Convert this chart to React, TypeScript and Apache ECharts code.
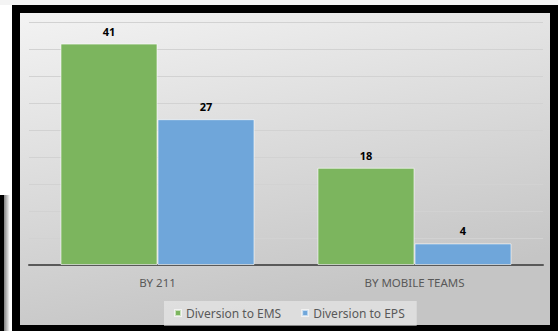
import React, { useEffect, useRef } from "react";
import * as echarts from "echarts";

const categories = ["BY 211", "BY MOBILE TEAMS"];
const emsValues = [41, 18];
const epsValues = [27, 4];
const seriesNames = ["Diversion to EMS", "Diversion to EPS"];

const FONT = "'Noto Sans', 'Open Sans', sans-serif";

export default function App() {
  const ref = useRef<HTMLDivElement>(null);
  useEffect(() => {
    if (!ref.current) return;
    const chart = echarts.init(ref.current, undefined, { renderer: "svg" });
    const label = {
      show: true,
      position: "top" as const,
      distance: 7,
      color: "#000000",
      fontWeight: "bold" as const,
      fontSize: 11,
      fontFamily: FONT,
    };
    chart.setOption({
      animation: false,
      backgroundColor: "#ffffff",
      graphic: [
        {
          type: "rect",
          z: -30,
          shape: { x: 0, y: 0, width: 558, height: 5 },
          style: { fill: "#f4f4f4" },
        },
        {
          type: "rect",
          z: -30,
          shape: { x: 0, y: 195, width: 4, height: 136 },
          style: { fill: "#000000" },
        },
        {
          type: "rect",
          z: -30,
          shape: { x: 4, y: 195, width: 6, height: 136 },
          style: {
            fill: new echarts.graphic.LinearGradient(0, 0, 1, 0, [
              { offset: 0, color: "rgba(0,0,0,0.5)" },
              { offset: 1, color: "rgba(0,0,0,0)" },
            ]),
          },
        },
        {
          type: "rect",
          z: -20,
          shape: { x: 12, y: 5, width: 546, height: 326 },
          style: { fill: "#000000" },
        },
        {
          type: "rect",
          z: -10,
          shape: { x: 20, y: 13, width: 530, height: 312 },
          style: {
            fill: new echarts.graphic.LinearGradient(0, 0, 0.35, 1, [
              { offset: 0, color: "#f3f3f3" },
              { offset: 1, color: "#c5c5c5" },
            ]),
          },
        },
      ],
      grid: { left: 29, right: 15, top: 22, bottom: 66 },
      legend: {
        data: seriesNames,
        left: 164,
        top: 301,
        itemWidth: 6,
        itemHeight: 6,
        itemGap: 20,
        padding: [6, 12, 7, 10],
        backgroundColor: "rgba(240,240,240,0.55)",
        icon: "rect",
        textStyle: { color: "#595959", fontSize: 12, fontFamily: FONT },
      },
      xAxis: {
        type: "category",
        data: categories,
        axisLine: { lineStyle: { color: "#595959", width: 2 } },
        axisTick: { show: false },
        axisLabel: {
          color: "#595959",
          fontSize: 11.5,
          fontFamily: FONT,
          margin: 11,
        },
      },
      yAxis: {
        type: "value",
        min: 0,
        max: 45,
        interval: 5,
        axisLabel: { show: false },
        axisLine: { show: false },
        axisTick: { show: false },
        splitLine: { lineStyle: { color: "#d2d2d2", width: 1 } },
      },
      series: [
        {
          name: seriesNames[0],
          type: "bar",
          data: emsValues,
          barGap: "0%",
          barCategoryGap: "24.5%",
          itemStyle: {
            color: "#7cb55e",
            borderColor: "rgba(255,255,255,0.6)",
            borderWidth: 1,
          },
          label,
        },
        {
          name: seriesNames[1],
          type: "bar",
          data: epsValues,
          barGap: "0%",
          barCategoryGap: "24.5%",
          itemStyle: {
            color: "#6fa6da",
            borderColor: "rgba(255,255,255,0.6)",
            borderWidth: 1,
          },
          label,
        },
      ],
    });
    return () => chart.dispose();
  }, []);
  return (
    <div
      ref={ref}
      style={{ position: "fixed", left: 0, top: 0, width: 558, height: 331 }}
    />
  );
}
